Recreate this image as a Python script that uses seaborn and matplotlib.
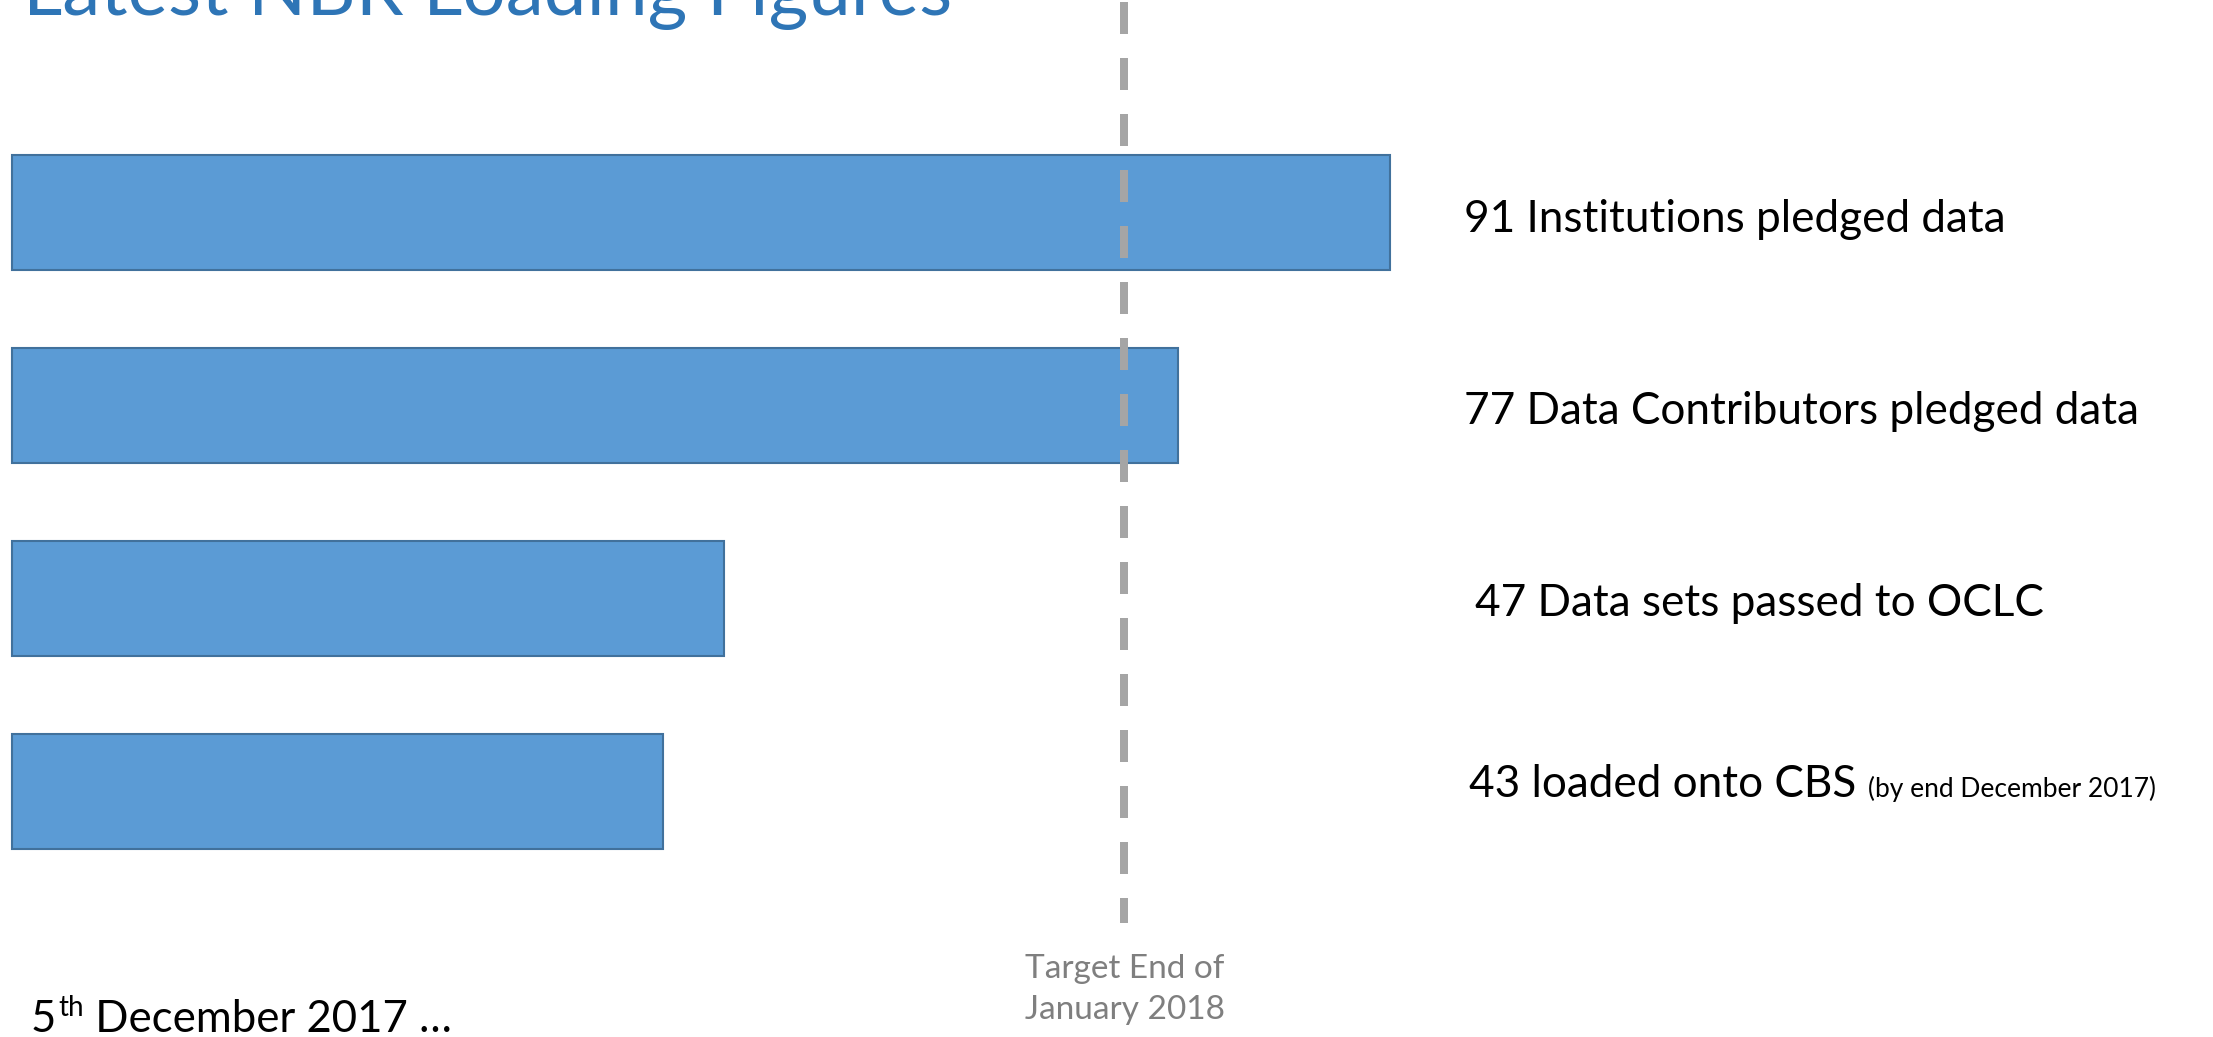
import pandas as pd
import seaborn as sns
import matplotlib.pyplot as plt

# datos del gráfico
categorias = ["Institutions", "Data Contributors", "Data sets", "Loaded onto CBS"]
valores = [91, 77, 47, 43]
etiquetas = ["91 Institutions pledged data",
             "77 Data Contributors pledged data",
             "47 Data sets passed to OCLC",
             "43 loaded onto CBS "]
nota_cbs = "(by end December 2017)"
titulo = "Latest NBR Loading Figures"
fecha_num = "5"
fecha_sup = "th"
fecha_resto = " December 2017 \u2026"
objetivo_texto = "Target End of\nJanuary 2018"
objetivo_x = 73.45

df = pd.DataFrame({"categoria": categorias, "valor": valores})

sns.set_theme(style="white")
plt.rcParams["font.family"] = ["Lato", "DejaVu Sans"]

W, H = 2213, 1037
fig = plt.figure(figsize=(W / 100, H / 100), dpi=100)
ax = fig.add_axes([0, 0, 1, 1])

def fx(px):
    return px / W

def fy(py):
    return 1 - py / H

# escala: 15.14 px por unidad, origen en x=12 px; filas cada 193 px
ppu = 15.14
sns.barplot(data=df, x="valor", y="categoria", orient="h", ax=ax,
            color="#5B9BD5", edgecolor="#41719C", linewidth=1.5,
            width=0.596, saturation=1)
ax.set_ylim((H - 212.5) / 193, -212.5 / 193)
ax.set_xlim(-12 / ppu, (W - 12) / ppu)
ax.axis("off")

# línea de objetivo discontinua
ax.plot([objetivo_x, objetivo_x], [(2 - 212.5) / 193, (923 - 212.5) / 193],
        color="#A5A5A5", linewidth=5.76, linestyle=(0, (4, 3)),
        dash_capstyle="butt", zorder=5)

fig.text(fx(1125), fy(1019), objetivo_texto, color="#7F7F7F", fontsize=24,
         ha="center", va="baseline", linespacing=1.45)

# título (cortado por arriba, como en la diapositiva)
fig.text(fx(23), fy(15), titulo, color="#2E75B6", fontsize=55,
         ha="left", va="baseline")

# etiquetas a la derecha
r = fig.canvas.get_renderer()
xs = [1464, 1464, 1475, 1469]
ys = [232, 424, 616, 797]
for i, txt in enumerate(etiquetas):
    t = fig.text(fx(xs[i]), fy(ys[i]), txt, fontsize=31.8, color="black",
                 ha="left", va="baseline")
    if i == 3:
        bb = t.get_window_extent(renderer=r)
        fig.text(bb.x1 / W, fy(ys[i]), nota_cbs, fontsize=19, color="black",
                 ha="left", va="baseline")

# fecha abajo a la izquierda
t5 = fig.text(fx(31), fy(1032), fecha_num, fontsize=31.5, color="black",
              ha="left", va="baseline")
bb = t5.get_window_extent(renderer=r)
tsup = fig.text(bb.x1 / W + 0.001, fy(1032 - 16), fecha_sup, fontsize=20,
                color="black", ha="left", va="baseline")
bb2 = tsup.get_window_extent(renderer=r)
fig.text(bb2.x1 / W, fy(1032), fecha_resto, fontsize=31.5, color="black",
         ha="left", va="baseline")

fig.savefig("out.png", dpi=100)
